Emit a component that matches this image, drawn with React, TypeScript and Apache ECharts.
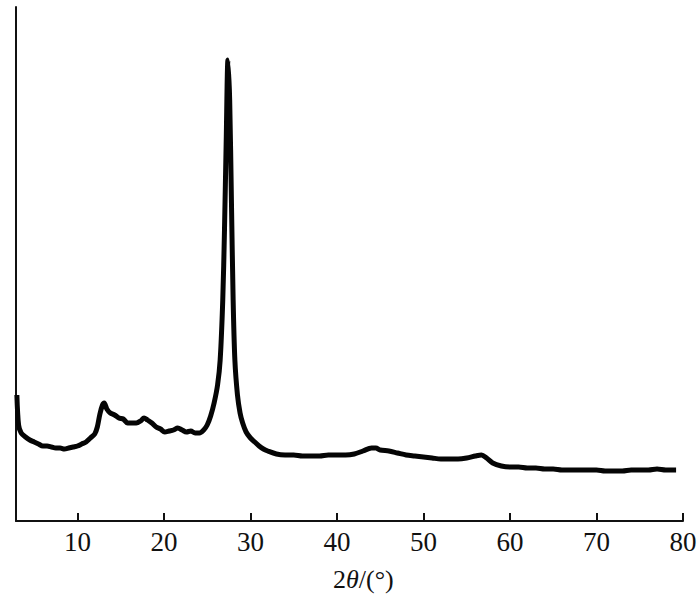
import React, { useEffect, useRef } from "react";
import * as echarts from "echarts";

// 2θ (degrees)
const twoTheta: number[] = [
  3.0, 3.2, 3.5, 4, 4.5, 5, 5.5, 6, 6.5, 7, 7.5, 8, 8.5, 9, 9.5, 10, 10.5, 11, 11.5, 12,
  12.3, 12.6, 12.9, 13.1, 13.4, 13.8, 14.3, 14.8, 15.3, 15.8, 16.3, 16.8, 17.3, 17.7, 18.1,
  18.6, 19.1, 19.6, 20.1, 20.6, 21.1, 21.6, 22.1, 22.6, 23.1, 23.6, 24.1, 24.6, 25.0, 25.4,
  25.8, 26.2, 26.5, 26.8, 27.0, 27.2, 27.4, 27.6, 27.8, 28.0, 28.2, 28.5, 28.8, 29.1, 29.5,
  30.0, 30.5, 31, 31.5, 32, 33, 34, 35, 36, 37, 38, 39, 40, 41, 42, 43, 44, 44.5, 45, 46, 47,
  48, 49, 50, 51, 52, 53, 54, 55, 56, 56.7, 57.3, 58, 59, 60, 61, 62, 63, 64, 65, 66, 67, 68,
  69, 70, 71, 72, 73, 74, 75, 76, 77, 78, 79.2,
];

// intensity (a.u.)
const intensity: number[] = [
  126, 96, 88, 84, 81, 79, 77, 75, 75, 74, 73, 73, 72, 73, 74, 75, 77, 79, 83, 87,
  94, 107, 116, 118, 112, 108, 106, 103, 102, 98, 98, 98, 100, 103, 101,
  98, 94, 92, 89, 90, 91, 93, 91, 89, 90, 88, 88, 91, 96, 105,
  118, 136, 161, 221, 291, 381, 461, 421, 321, 221, 161, 126, 108, 98, 89,
  83, 79, 75, 72, 70, 67, 66, 66, 65, 65, 65, 66, 66, 66, 67, 70, 73, 73, 71, 70, 68,
  66, 65, 64, 63, 62, 62, 62, 63, 65, 66, 63, 58, 55, 54, 54, 53, 53, 52, 52, 51, 51, 51,
  51, 51, 50, 50, 50, 51, 51, 51, 52, 51, 51,
];

const xTicks: number[] = [10, 20, 30, 40, 50, 60, 70, 80];

export default function App() {
  const ref = useRef<HTMLDivElement>(null);
  useEffect(() => {
    if (!ref.current) return;
    const chart = echarts.init(ref.current, undefined, { renderer: "svg" });
    const data = twoTheta.map((x, i) => [x, intensity[i]]);
    chart.setOption({
      animation: false,
      backgroundColor: "#ffffff",
      grid: { left: 16, right: 17, top: 7, bottom: 80, containLabel: false },
      xAxis: {
        type: "value",
        min: 2.9,
        max: 80,
        axisLine: { show: true, onZero: false, lineStyle: { color: "#111", width: 2 } },
        axisTick: {
          show: true,
          inside: true,
          length: 8,
          lineStyle: { color: "#111", width: 2 },
          customValues: xTicks,
        },
        axisLabel: {
          show: true,
          margin: 7,
          fontFamily: "Liberation Serif",
          fontSize: 27,
          color: "#111",
          customValues: xTicks,
        },
        splitLine: { show: false },
      },
      yAxis: {
        type: "value",
        min: 0,
        max: 514,
        axisLine: { show: true, lineStyle: { color: "#111", width: 2 } },
        axisTick: { show: false },
        axisLabel: { show: false },
        splitLine: { show: false },
      },
      graphic: [
        {
          type: "text",
          left: 333,
          top: 566,
          style: {
            text: "2{i|θ}/(°)",
            fontFamily: "Liberation Serif",
            fontSize: 26,
            fill: "#111",
            rich: {
              i: { fontFamily: "Liberation Serif", fontSize: 26, fontStyle: "italic", fill: "#111" },
            },
          },
        },
      ],
      series: [
        {
          type: "line",
          data,
          showSymbol: false,
          symbol: "none",
          smooth: 0.3,
          lineStyle: { color: "#050505", width: 5 },
        },
      ],
    });
    return () => chart.dispose();
  }, []);
  return (
    <div
      ref={ref}
      style={{ position: "absolute", left: 0, top: 0, width: 700, height: 601 }}
    />
  );
}
